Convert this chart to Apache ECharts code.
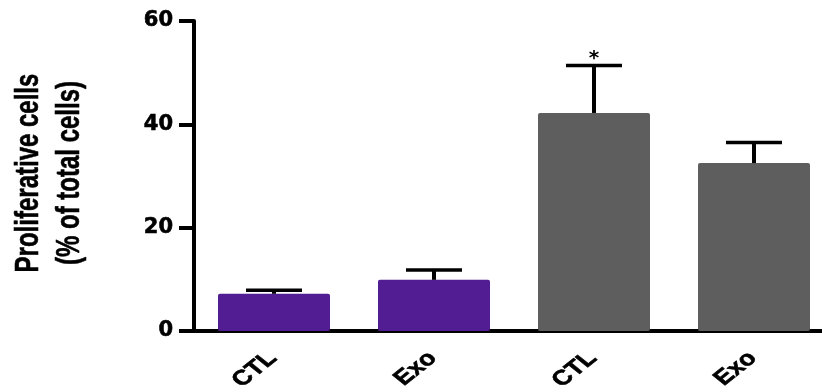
<!DOCTYPE html>
<html><head><meta charset="utf-8">
<script src="https://cdn.jsdelivr.net/npm/echarts@6/dist/echarts.min.js"></script>
<style>html,body{margin:0;padding:0;background:#fff}#c{width:822px;height:392px}</style>
</head><body><div id="c"></div>
<script>
const categories = ['CTL', 'Exo', 'CTL', 'Exo'];
const means = [7.2, 9.9, 42.2, 32.5];
const errors = [0.7, 1.9, 9.2, 4.0];
const barColors = ['#521C92', '#521C92', '#5E5E5E', '#5E5E5E'];
const significance = ['', '', '*', ''];
const yTicks = [0, 20, 40, 60];
const yTitle = 'Proliferative cells\n(% of total cells)';

const TITLE_STRETCH = 1.42; // the reference text is horizontally stretched
const LABEL_STRETCH = 1.25;

const chart = echarts.init(document.getElementById('c'), null, {renderer: 'canvas'});
chart.setOption({
  animation: false,
  grid: {left: 194, top: 21, width: 640, height: 310, containLabel: false, outerBoundsMode: 'none'},
  xAxis: {
    type: 'category', data: categories,
    axisLine: {lineStyle: {color: '#000', width: 4}},
    axisTick: {alignWithLabel: true, length: 11, lineStyle: {color: '#000', width: 4}},
    axisLabel: {show: false}
  },
  yAxis: {
    type: 'value', min: 0, max: 60, interval: 20,
    axisLine: {show: true, lineStyle: {color: '#000', width: 4}},
    axisTick: {show: true, length: 15, lineStyle: {color: '#000', width: 4}},
    splitLine: {show: false},
    axisLabel: {margin: 21, color: '#000', fontFamily: 'DejaVu Sans', fontWeight: 'bold', fontSize: 21,
      textBorderColor: '#000', textBorderWidth: 0.6,
      formatter: v => yTicks.includes(v) ? String(v) : ''}
  },
  graphic: [{
    type: 'text', x: 49, y: 173, rotation: Math.PI / 2, scaleY: TITLE_STRETCH,
    style: {text: yTitle, fontFamily: 'Liberation Sans', fontWeight: 'bold', fontSize: 24, lineHeight: 29,
      align: 'center', verticalAlign: 'middle', fill: '#000', stroke: '#000', lineWidth: 0.4}
  }],
  series: [
    {
      type: 'bar', barWidth: '70%', z: 2,
      data: means.map((v, i) => ({value: v, itemStyle: {color: barColors[i], borderRadius: 2}}))
    },
    {
      type: 'custom', z: 3,
      data: means.map((v, i) => [i, v, v + errors[i]]),
      renderItem: (params, api) => {
        const base = api.coord([api.value(0), api.value(1)]);
        const top = api.coord([api.value(0), api.value(2)]);
        const half = 28;
        const children = [
          {type: 'line', shape: {x1: base[0], y1: base[1], x2: top[0], y2: top[1]}, style: {stroke: '#000', lineWidth: 4}},
          {type: 'line', shape: {x1: top[0] - half, y1: top[1], x2: top[0] + half, y2: top[1]}, style: {stroke: '#000', lineWidth: 3.5}}
        ];
        const s = significance[params.dataIndex];
        if (s) children.push({type: 'text', style: {text: s, x: top[0], y: top[1] + 3, align: 'center', verticalAlign: 'bottom', fontSize: 20, fontWeight: 'bold', fontFamily: 'DejaVu Sans', fill: '#000'}});
        return {type: 'group', children};
      }
    },
    {
      type: 'custom', z: 4, clip: false, silent: true,
      data: categories.map((c, i) => [i, 0]),
      renderItem: (params, api) => {
        const p = api.coord([api.value(0), api.value(1)]);
        return {
          type: 'group', x: p[0], y: p[1], scaleX: LABEL_STRETCH,
          children: [{
            type: 'text', x: -1, y: 24, rotation: Math.PI / 4,
            style: {text: categories[params.dataIndex], align: 'right', verticalAlign: 'middle',
              fontFamily: 'Liberation Sans', fontWeight: 'bold', fontSize: 21, fill: '#000', stroke: '#000', lineWidth: 0.6}
          }]
        };
      }
    }
  ]
});
</script></body></html>
